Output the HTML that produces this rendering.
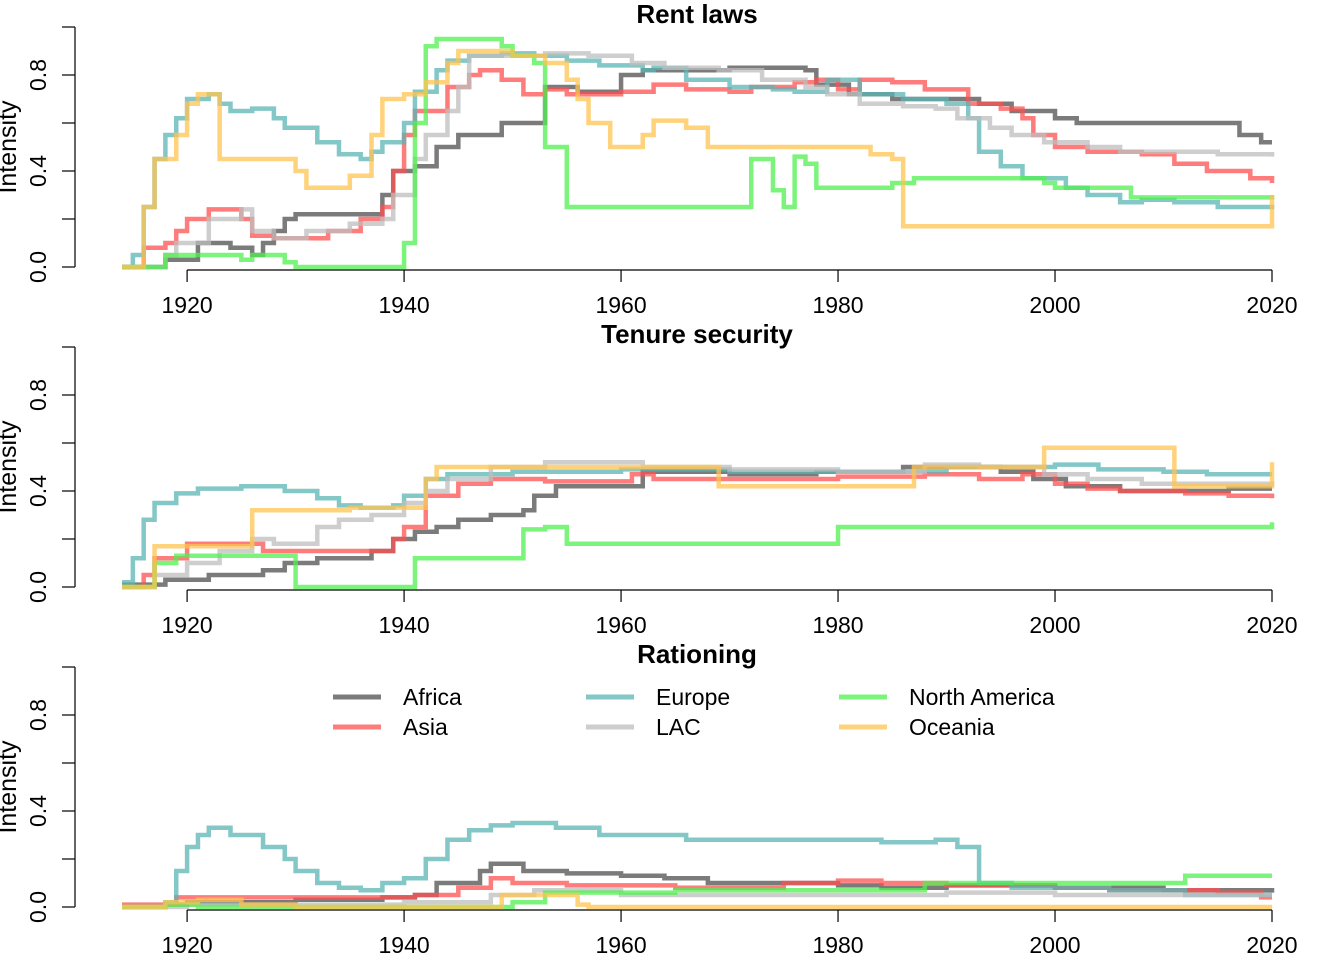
<!DOCTYPE html>
<html><head><meta charset="utf-8"><style>
body{margin:0;background:#fff}
svg{display:block;font-family:"Liberation Sans",Arial,sans-serif}
</style></head><body>
<svg id="chart" width="1344" height="960" viewBox="0 0 1344 960"></svg>
<script>
const regions = ["Africa","Asia","Europe","LAC","North America","Oceania"];
const colors = ["rgba(90,90,90,0.8)","rgba(255,80,80,0.75)","rgba(90,180,180,0.75)","rgba(190,190,190,0.75)","rgba(80,240,80,0.75)","rgba(255,195,80,0.75)"];
const panelTitles = ["Rent laws","Tenure security","Rationing"];
const xTicks = [1920,1940,1960,1980,2000,2020];
const yTicks = [0,0.2,0.4,0.6,0.8,1.0];
const yLabels = ["0.0","","0.4","","0.8",""];
// [year, value] step breakpoints
const rentAfrica=[[1914,0],[1918,0.03],[1921,0.1],[1924,0.08],[1926,0.05],[1927,0.1],[1928,0.15],[1929,0.2],[1930,0.22],[1938,0.3],[1939,0.4],[1941,0.42],[1943,0.5],[1945,0.55],[1949,0.6],[1953,0.75],[1956,0.73],[1960,0.8],[1962,0.82],[1970,0.83],[1977,0.82],[1978,0.76],[1981,0.72],[1985,0.7],[1993,0.68],[1996,0.65],[2000,0.62],[2002,0.6],[2017,0.55],[2019,0.52]];
const rentAsia=[[1914,0],[1916,0.08],[1918,0.1],[1919,0.15],[1920,0.2],[1922,0.24],[1925,0.2],[1926,0.13],[1928,0.12],[1933,0.15],[1936,0.2],[1938,0.25],[1939,0.4],[1940,0.55],[1941,0.65],[1944,0.75],[1946,0.8],[1947,0.82],[1949,0.78],[1951,0.72],[1953,0.74],[1955,0.72],[1960,0.73],[1963,0.76],[1966,0.74],[1970,0.73],[1972,0.75],[1976,0.77],[1978,0.78],[1980,0.74],[1982,0.78],[1985,0.77],[1988,0.74],[1992,0.68],[1995,0.66],[1997,0.62],[1998,0.55],[2000,0.5],[2003,0.48],[2008,0.47],[2011,0.43],[2014,0.4],[2018,0.37],[2020,0.35]];
const rentEurope=[[1914,0],[1915,0.05],[1916,0.25],[1917,0.45],[1918,0.55],[1919,0.62],[1920,0.7],[1922,0.72],[1923,0.68],[1924,0.65],[1926,0.66],[1928,0.62],[1929,0.58],[1932,0.52],[1934,0.47],[1936,0.45],[1937,0.48],[1938,0.52],[1940,0.6],[1941,0.73],[1943,0.82],[1944,0.86],[1946,0.88],[1949,0.89],[1952,0.88],[1955,0.86],[1958,0.84],[1962,0.82],[1963,0.83],[1966,0.78],[1970,0.75],[1974,0.74],[1976,0.73],[1979,0.78],[1982,0.72],[1986,0.7],[1990,0.68],[1992,0.62],[1993,0.48],[1995,0.42],[1997,0.37],[2001,0.33],[2003,0.3],[2006,0.27],[2008,0.28],[2011,0.27],[2015,0.25],[2020,0.26]];
const rentLAC=[[1914,0],[1918,0.05],[1919,0.1],[1922,0.2],[1925,0.24],[1926,0.15],[1928,0.12],[1931,0.15],[1935,0.18],[1938,0.2],[1939,0.3],[1941,0.45],[1942,0.55],[1944,0.65],[1945,0.75],[1946,0.88],[1953,0.89],[1957,0.88],[1961,0.85],[1964,0.83],[1969,0.82],[1973,0.78],[1977,0.75],[1979,0.72],[1982,0.68],[1986,0.67],[1989,0.66],[1991,0.62],[1994,0.58],[1996,0.55],[1999,0.52],[2003,0.5],[2006,0.48],[2015,0.47],[2020,0.46]];
const rentNA=[[1914,0],[1918,0.05],[1925,0.03],[1926,0.05],[1929,0.02],[1930,0],[1940,0.1],[1941,0.6],[1942,0.92],[1943,0.95],[1949,0.92],[1950,0.88],[1952,0.85],[1953,0.5],[1955,0.25],[1972,0.45],[1974,0.32],[1975,0.25],[1976,0.46],[1977,0.43],[1978,0.33],[1985,0.35],[1987,0.37],[1999,0.35],[2000,0.33],[2007,0.29],[2020,0.3]];
const rentOceania=[[1914,0],[1916,0.25],[1917,0.45],[1919,0.55],[1920,0.68],[1921,0.72],[1923,0.45],[1930,0.4],[1931,0.33],[1935,0.38],[1937,0.55],[1938,0.7],[1940,0.72],[1942,0.77],[1944,0.85],[1945,0.9],[1950,0.88],[1953,0.85],[1955,0.78],[1956,0.7],[1957,0.6],[1959,0.5],[1962,0.55],[1963,0.61],[1966,0.58],[1968,0.5],[1983,0.47],[1985,0.45],[1986,0.17],[2020,0.3]];
const tenAfrica=[[1914,0.01],[1918,0.03],[1922,0.05],[1927,0.07],[1929,0.1],[1932,0.12],[1937,0.15],[1939,0.2],[1941,0.23],[1943,0.25],[1945,0.28],[1948,0.3],[1951,0.32],[1952,0.38],[1954,0.42],[1962,0.48],[1970,0.47],[1978,0.48],[1986,0.5],[1995,0.48],[1998,0.45],[2001,0.42],[2006,0.4],[2016,0.41],[2020,0.41]];
const tenAsia=[[1914,0],[1916,0.05],[1917,0.12],[1920,0.18],[1925,0.18],[1927,0.15],[1935,0.15],[1939,0.2],[1940,0.25],[1942,0.38],[1945,0.43],[1948,0.45],[1953,0.44],[1961,0.47],[1963,0.45],[1980,0.46],[1988,0.47],[1993,0.45],[1997,0.47],[2000,0.43],[2003,0.41],[2006,0.4],[2012,0.39],[2016,0.38],[2020,0.37]];
const tenEurope=[[1914,0.02],[1915,0.12],[1916,0.28],[1917,0.35],[1919,0.39],[1921,0.41],[1925,0.42],[1929,0.4],[1932,0.37],[1934,0.34],[1936,0.33],[1939,0.34],[1940,0.38],[1942,0.45],[1944,0.47],[1950,0.48],[1960,0.49],[1970,0.48],[1990,0.5],[2000,0.51],[2004,0.49],[2010,0.48],[2014,0.47],[2020,0.47]];
const tenLAC=[[1914,0],[1917,0.05],[1920,0.1],[1923,0.15],[1926,0.2],[1928,0.18],[1932,0.25],[1934,0.28],[1937,0.3],[1940,0.35],[1942,0.4],[1944,0.45],[1948,0.5],[1953,0.52],[1962,0.5],[1970,0.49],[1980,0.48],[1988,0.51],[1993,0.5],[1999,0.47],[2003,0.45],[2008,0.43],[2020,0.42]];
const tenNA=[[1914,0],[1917,0.1],[1919,0.13],[1930,0],[1941,0.12],[1951,0.24],[1953,0.25],[1955,0.18],[1980,0.25],[2020,0.27]];
const tenOceania=[[1914,0],[1917,0.17],[1926,0.32],[1935,0.33],[1942,0.45],[1943,0.5],[1969,0.42],[1987,0.5],[1999,0.58],[2011,0.42],[2020,0.52]];
const ratAfrica=[[1914,0],[1918,0.01],[1920,0.02],[1930,0.03],[1938,0.04],[1941,0.05],[1943,0.1],[1947,0.15],[1948,0.18],[1951,0.15],[1955,0.14],[1960,0.13],[1964,0.12],[1968,0.1],[1980,0.09],[1984,0.08],[1990,0.09],[2000,0.08],[2010,0.07],[2020,0.06]];
const ratAsia=[[1914,0.01],[1919,0.04],[1941,0.05],[1945,0.08],[1948,0.12],[1950,0.1],[1955,0.09],[1965,0.08],[1975,0.1],[1980,0.11],[1984,0.1],[1990,0.09],[2000,0.08],[2005,0.07],[2015,0.06],[2019,0.04]];
const ratEurope=[[1914,0],[1918,0.02],[1919,0.15],[1920,0.25],[1921,0.3],[1922,0.33],[1924,0.3],[1927,0.25],[1929,0.2],[1930,0.15],[1932,0.1],[1934,0.08],[1936,0.07],[1938,0.1],[1940,0.12],[1942,0.2],[1944,0.28],[1946,0.32],[1948,0.34],[1950,0.35],[1954,0.33],[1958,0.3],[1966,0.28],[1984,0.27],[1989,0.28],[1991,0.25],[1993,0.1],[1996,0.08],[2005,0.07],[2012,0.05],[2020,0.05]];
const ratLAC=[[1914,0],[1920,0.01],[1940,0.02],[1948,0.05],[1952,0.07],[1960,0.05],[1990,0.06],[2000,0.05],[2020,0.05]];
const ratNA=[[1914,0],[1918,0.01],[1921,0],[1950,0.02],[1953,0.06],[1965,0.07],[1988,0.1],[2012,0.13],[2020,0.13]];
const ratOceania=[[1914,0],[1918,0.02],[1921,0.03],[1925,0.01],[1930,0],[1949,0.05],[1956,0.01],[1957,0],[2020,0]];
const panelSeries=[[rentAfrica,rentAsia,rentEurope,rentLAC,rentNA,rentOceania],[tenAfrica,tenAsia,tenEurope,tenLAC,tenNA,tenOceania],[ratAfrica,ratAsia,ratEurope,ratLAC,ratNA,ratOceania]];

const NS="http://www.w3.org/2000/svg";
const svg=document.getElementById('chart');
function mk(tag,attrs,parent){const e=document.createElementNS(NS,tag);for(const k in attrs)e.setAttribute(k,attrs[k]);(parent||svg).appendChild(e);return e;}
const X0=122,X1=1272,Y0=1914,Y1=2020;
function xs(yr){return X0+(yr-Y0)*(X1-X0)/(Y1-Y0);}
function ysFor(p){const base=267+p*320;return v=>base-v*240;}

panelTitles.forEach((t,p)=>{
  const ys=ysFor(p);
  const g=mk('g',{});
  
  
  const title=mk('text',{x:697,y:23+p*320,'text-anchor':'middle','font-size':26,'font-weight':'bold'},g);
  title.textContent=t;
  
  
  const ya=mk('g',{},g);
  
  
  mk('line',{x1:75,x2:75,y1:ys(0),y2:ys(1),stroke:'#000','stroke-width':1.2},ya);
  yTicks.forEach((v,i)=>{
    mk('line',{x1:62,x2:75,y1:ys(v),y2:ys(v),stroke:'#000','stroke-width':1.2},ya);
    if(yLabels[i]){const tl=mk('text',{x:0,y:0,'font-size':23,'text-anchor':'middle',transform:`translate(46,${ys(v)}) rotate(-90)`},ya);tl.textContent=yLabels[i];
      
      }
  });
  const yt=mk('text',{x:0,y:0,'font-size':25,'text-anchor':'middle',transform:`translate(16,${ys(0.5)}) rotate(-90)`},ya);
  yt.textContent='Intensity';
  
  
  const xa=mk('g',{},g);
  
  
  const axY=ys(0)+3;
  mk('line',{x1:xs(1920),x2:xs(2020),y1:axY,y2:axY,stroke:'#000','stroke-width':1.2},xa);
  xTicks.forEach(v=>{
    mk('line',{x1:xs(v),x2:xs(v),y1:axY,y2:axY+12,stroke:'#000','stroke-width':1.2},xa);
    const tl=mk('text',{x:xs(v),y:axY+43,'font-size':23,'text-anchor':'middle'},xa);tl.textContent=v;
    
    
  });
  panelSeries[p].forEach((s,i)=>{
    let d=`M${xs(s[0][0])},${ys(s[0][1])}`;
    for(let k=1;k<s.length;k++){d+=`H${xs(s[k][0])}V${ys(s[k][1])}`;}
    d+=`H${xs(2020)}`;
    const path=mk('path',{d,fill:'none',stroke:colors[i],'stroke-width':4.5,'stroke-linejoin':'miter'},g);
    
    
  });
});
const lg=mk('g',{});


const legCols=[333,586,839],legRows=[697,727];
const legOrder=[0,2,4,1,3,5];
legOrder.forEach((ri,k)=>{
  const col=k%3,row=Math.floor(k/3);
  const e=mk('g',{},lg);
  
  
  mk('line',{x1:legCols[col],x2:legCols[col]+48,y1:legRows[row],y2:legRows[row],stroke:colors[ri],'stroke-width':5},e);
  const t=mk('text',{x:legCols[col]+70,y:legRows[row]+8,'font-size':23},e);
  t.textContent=regions[ri];
});
</script>
</body></html>
